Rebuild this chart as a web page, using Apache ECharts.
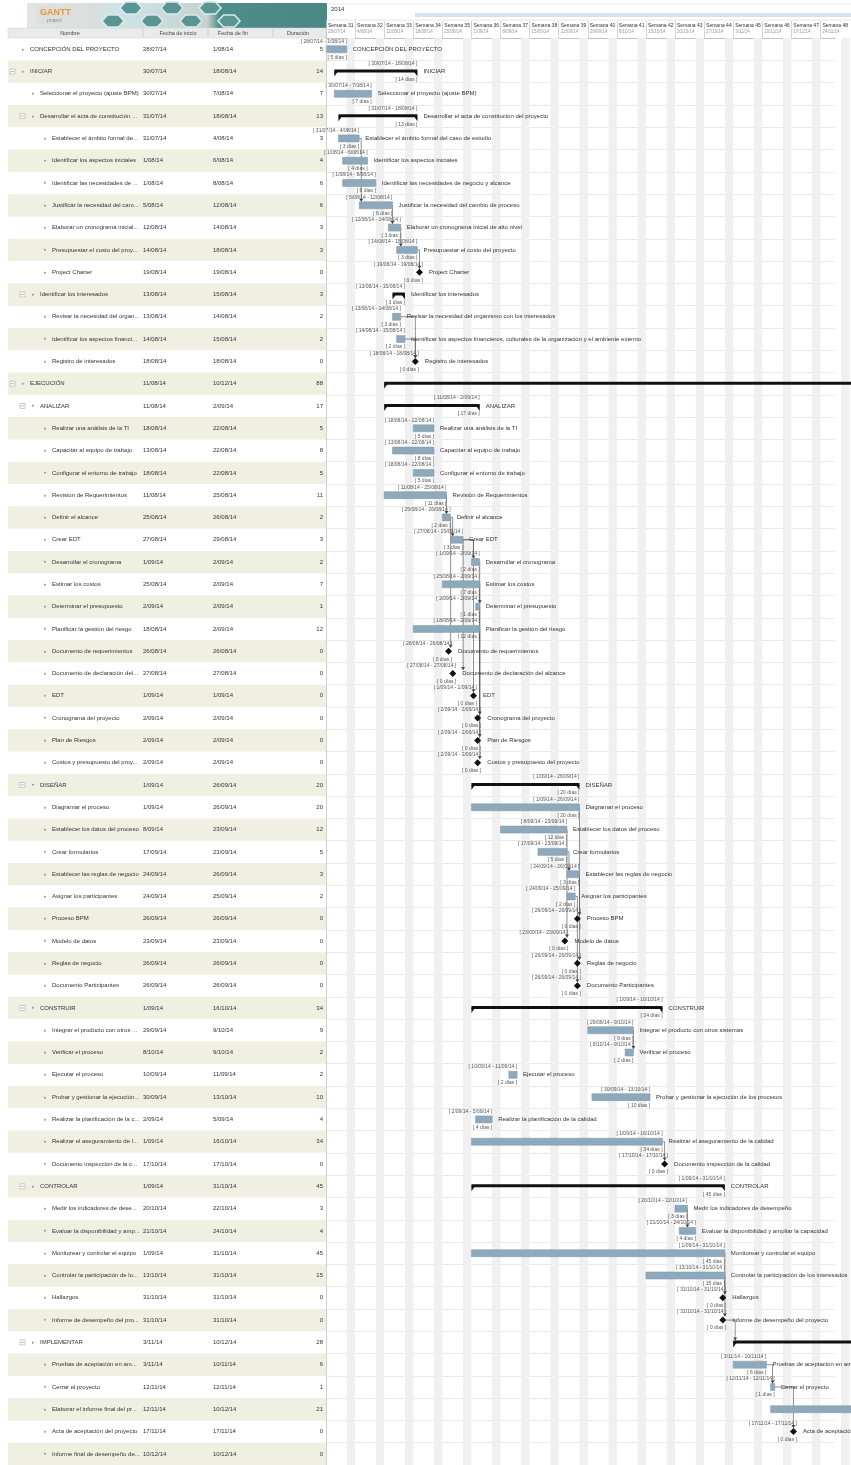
<!DOCTYPE html>
<html><head><meta charset="utf-8">
<script src="https://cdn.jsdelivr.net/npm/echarts@6/dist/echarts.min.js"></script>
<style>html,body{margin:0;padding:0;background:#fff}#c{width:851px;height:1465px}</style>
</head><body><div id="c"></div>
<script>
// ---------------- DATA ----------------
const taskNames = [
 'CONCEPCIÓN DEL PROYECTO','INICIAR','Seleccionar el proyecto (ajuste BPM)','Desarrollar el acta de constitución del proyecto',
 'Establecer el ámbito formal del caso de estudio','Identificar los aspectos iniciales','Identificar las necesidades de negocio y alcance',
 'Justificar la necesidad del cambio de proceso','Elaborar un cronograma inicial de alto nivel','Presupuestar el costo del proyecto',
 'Project Charter','Identificar los interesados','Revisar la necesidad del organismo con los interesados',
 'Identificar los aspectos financieros, culturales de la organización y el ambiente externo','Registro de interesados',
 'EJECUCIÓN','ANALIZAR','Realizar una análisis de la TI','Capacitar al equipo de trabajo','Configurar el entorno de trabajo',
 'Revisión de Requerimientos','Definir el alcance','Crear EDT','Desarrollar el cronograma','Estimar los costos',
 'Determinar el presupuesto','Planificar la gestión del riesgo','Documento de requerimientos','Documento de declaración del alcance',
 'EDT','Cronograma del proyecto','Plan de Riesgos','Costos y presupuesto del proyecto',
 'DISEÑAR','Diagramar el proceso','Establecer los datos del proceso','Crear formularios','Establecer las reglas de negocio',
 'Asignar los participantes','Proceso BPM','Modelo de datos','Reglas de negocio','Documento Participantes',
 'CONSTRUIR','Integrar el producto con otros sistemas','Verificar el proceso','Ejecutar el proceso',
 'Probar y gestionar la ejecución de los procesos','Realizar la planificación de la calidad','Realizar el aseguramiento de la calidad',
 'Documento inspección de la calidad','CONTROLAR','Medir los indicadores de desempeño','Evaluar la disponibilidad y ampliar la capacidad',
 'Monitorear y controlar el equipo','Controlar la participación de los interesados','Hallazgos','Informe de desempeño del proyecto',
 'IMPLEMENTAR','Pruebas de aceptación en ambiente de producción','Cerrar el proyecto','Elaborar el informe final del proyecto',
 'Acta de aceptación del proyecto','Informe final de desempeño del proyecto'
];
const taskLevels = [0,0,1,1,2,2,2,2,2,2,2,1,2,2,2,0,1,2,2,2,2,2,2,2,2,2,2,2,2,2,2,2,2,1,2,2,2,2,2,2,2,2,2,1,2,2,2,2,2,2,2,1,2,2,2,2,2,2,1,2,2,2,2,2];
const taskKinds = ['task','sum','task','sum','task','task','task','task','task','task','ms','sum','task','task','ms',
 'sum','sum','task','task','task','task','task','task','task','task','task','task','ms','ms','ms','ms','ms','ms',
 'sum','task','task','task','task','task','ms','ms','ms','ms',
 'sum','task','task','task','task','task','task','ms',
 'sum','task','task','task','task','ms','ms',
 'sum','task','task','task','ms','ms'];
const startDates = ['28/07/14','30/07/14','30/07/14','31/07/14','31/07/14','1/08/14','1/08/14','5/08/14','12/08/14','14/08/14','19/08/14','13/08/14','13/08/14','14/08/14','18/08/14',
 '11/08/14','11/08/14','18/08/14','13/08/14','18/08/14','11/08/14','25/08/14','27/08/14','1/09/14','25/08/14','2/09/14','18/08/14','26/08/14','27/08/14','1/09/14','2/09/14','2/09/14','2/09/14',
 '1/09/14','1/09/14','8/09/14','17/09/14','24/09/14','24/09/14','26/09/14','23/09/14','26/09/14','26/09/14',
 '1/09/14','29/09/14','8/10/14','10/09/14','30/09/14','2/09/14','1/09/14','17/10/14',
 '1/09/14','20/10/14','21/10/14','1/09/14','13/10/14','31/10/14','31/10/14',
 '3/11/14','3/11/14','12/11/14','12/11/14','17/11/14','10/12/14'];
const endDates = ['1/08/14','18/08/14','7/08/14','18/08/14','4/08/14','6/08/14','8/08/14','12/08/14','14/08/14','18/08/14','19/08/14','15/08/14','14/08/14','15/08/14','18/08/14',
 '10/12/14','2/09/14','22/08/14','22/08/14','22/08/14','25/08/14','26/08/14','29/08/14','2/09/14','2/09/14','2/09/14','2/09/14','26/08/14','27/08/14','1/09/14','2/09/14','2/09/14','2/09/14',
 '26/09/14','26/09/14','23/09/14','23/09/14','26/09/14','25/09/14','26/09/14','23/09/14','26/09/14','26/09/14',
 '16/10/14','9/10/14','9/10/14','11/09/14','13/10/14','5/09/14','16/10/14','17/10/14',
 '31/10/14','22/10/14','24/10/14','31/10/14','31/10/14','31/10/14','31/10/14',
 '10/12/14','10/11/14','12/11/14','10/12/14','17/11/14','10/12/14'];
const durations = [5,14,7,13,3,4,6,6,3,3,0,3,2,2,0,
 88,17,5,8,5,11,2,3,2,7,1,12,0,0,0,0,0,0,
 20,20,12,5,3,2,0,0,0,0,
 34,9,2,2,10,4,34,0,
 45,3,4,45,15,0,0,
 28,6,1,21,0,0];
const weekLabels = ['Semana 31','Semana 32','Semana 33','Semana 34','Semana 35','Semana 36','Semana 37','Semana 38','Semana 39',
 'Semana 40','Semana 41','Semana 42','Semana 43','Semana 44','Semana 45','Semana 46','Semana 47','Semana 48'];
const weekDates = ['28/07/14','4/08/14','11/08/14','18/08/14','25/08/14','1/09/14','8/09/14','15/09/14','22/09/14',
 '29/09/14','6/10/14','13/10/14','20/10/14','27/10/14','3/11/14','10/11/14','17/11/14','24/11/14'];
const dependencies = [[5,8],[8,9],[9,10],[10,11],[13,15],[14,15],[21,22],[22,23],[22,28],[23,29],[23,24],[23,30],
 [24,31],[27,32],[26,33],[25,26],[35,40],[36,41],[38,42],[39,43],[37,38],[45,46],[50,51],[55,57],[56,58],[53,54],
 [58,59],[60,61],[61,63]];

// ---------------- HELPERS ----------------
const ORIGIN = Date.UTC(2014,6,28);
function dayNum(s){ const p=s.split('/').map(Number); return (Date.UTC(2000+p[2],p[1]-1,p[0])-ORIGIN)/86400000; }
const FONT = 'Liberation Sans, Arial, sans-serif';
const N = taskNames.length;
const rowH = 22.37, gridTop = 38.1, CHART_RIGHT = 851;
const weekends = weekLabels.map((_,k)=>5+7*k);
const MS_R = 3.5;

function taskX(api,i){
  const s=dayNum(startDates[i]), e=dayNum(endDates[i])+1;
  if(taskKinds[i]==='ms'){ const xm=api.coord([s+0.5,i])[0]; return [xm-MS_R,xm+MS_R,xm]; }
  return [api.coord([s,i])[0], api.coord([e,i])[0]];
}

function renderTable(params, api){
  const i=params.dataIndex;
  const yc=api.coord([0,i])[1], h=api.size([0,1])[1];
  const X=v=>api.coord([v,i])[0];
  const ch=[];
  if(i%2===1) ch.push({type:'rect',shape:{x:X(8),y:yc-h/2,width:X(326)-X(8),height:h},style:{fill:'#eff0e2'}});
  const tx=[30,40,52][taskLevels[i]];
  if(taskKinds[i]==='sum'){
    const bx=X(tx-20);
    ch.push({type:'rect',shape:{x:bx,y:yc-2.5,width:5,height:5},style:{fill:'#fff',stroke:'#aaa',lineWidth:0.6}});
    ch.push({type:'line',shape:{x1:bx+1.2,y1:yc,x2:bx+3.8,y2:yc},style:{stroke:'#777',lineWidth:0.6}});
  }
  ch.push({type:'text',style:{x:X(tx-8),y:yc,text:'▸',fill:'#999',fontSize:5,fontFamily:FONT,verticalAlign:'middle'}});
  ch.push({type:'text',style:{x:X(tx),y:yc,text:taskNames[i],fill:'#333',fontSize:6,fontFamily:FONT,verticalAlign:'middle',width:X(141)-X(tx),overflow:'truncate',ellipsis:'...'}});
  ch.push({type:'text',style:{x:X(143),y:yc,text:startDates[i],fill:'#333',fontSize:6,fontFamily:FONT,verticalAlign:'middle'}});
  ch.push({type:'text',style:{x:X(213),y:yc,text:endDates[i],fill:'#333',fontSize:6,fontFamily:FONT,verticalAlign:'middle'}});
  ch.push({type:'text',style:{x:X(323),y:yc,text:String(durations[i]),fill:'#333',fontSize:6,fontFamily:FONT,verticalAlign:'middle',align:'right'}});
  return {type:'group',children:ch};
}

function renderWeekend(params, api){
  const d=api.value(0);
  const x1=api.coord([d,0])[0], x2=api.coord([d+2,0])[0];
  const cs=params.coordSys;
  return {type:'rect',shape:{x:x1,y:cs.y,width:x2-x1,height:cs.height},style:{fill:'#f0f0f0'}};
}

function renderGantt(params, api){
  const i=params.dataIndex;
  const yc=api.coord([0,i])[1];
  const kind=taskKinds[i];
  const xs=taskX(api,i);
  const x1=xs[0], x2=xs[1];
  const ch=[];
  if(kind==='ms'){
    const xm=xs[2];
    ch.push({type:'polygon',shape:{points:[[xm,yc-MS_R],[xm+MS_R,yc],[xm,yc+MS_R],[xm-MS_R,yc]]},style:{fill:'#111'}});
  } else if(kind==='sum'){
    ch.push({type:'rect',shape:{x:x1,y:yc-2,width:x2-x1,height:3},style:{fill:'#111'}});
    ch.push({type:'polygon',shape:{points:[[x1,yc],[x1+3.5,yc],[x1,yc+5]]},style:{fill:'#111'}});
    ch.push({type:'polygon',shape:{points:[[x2,yc],[x2-3.5,yc],[x2,yc+5]]},style:{fill:'#111'}});
  } else {
    ch.push({type:'rect',shape:{x:x1,y:yc-3.5,width:Math.max(x2-x1,1),height:7},style:{fill:'#8fa9bc',stroke:'#7b95a8',lineWidth:0.5}});
  }
  if(x2 <= CHART_RIGHT){
    ch.push({type:'text',style:{x:x2,y:yc-8,text:'[ '+startDates[i]+' - '+endDates[i]+' ]',fill:'#555',fontSize:5,fontFamily:FONT,align:'right',verticalAlign:'middle'}});
    ch.push({type:'text',style:{x:x2,y:yc+8,text:'[ '+durations[i]+' días ]',fill:'#555',fontSize:5,fontFamily:FONT,align:'right',verticalAlign:'middle'}});
    ch.push({type:'text',style:{x:x2+6,y:yc,text:taskNames[i],fill:'#333',fontSize:6,fontFamily:FONT,verticalAlign:'middle'}});
  }
  return {type:'group',children:ch};
}

function renderDep(params, api){
  const dep=dependencies[params.dataIndex];
  const p=dep[0]-1, s=dep[1]-1;
  const yp=api.coord([0,p])[1], ys=api.coord([0,s])[1];
  const pe=taskX(api,p)[1];
  const sx= taskKinds[s]==='ms' ? taskX(api,s)[2] : taskX(api,s)[0]+2;
  const xl=Math.max(pe,sx);
  const yt=ys-(taskKinds[s]==='ms'?MS_R:(taskKinds[s]==='sum'?2:3.5));
  return {type:'group',children:[
    {type:'polyline',shape:{points:[[pe,yp],[xl,yp],[xl,yt]]},style:{stroke:'#444',lineWidth:0.6,fill:null}},
    {type:'polygon',shape:{points:[[xl-2,yt-3],[xl+2,yt-3],[xl,yt]]},style:{fill:'#444'}}
  ]};
}

// ---------------- LOGO / HEADER GRAPHICS ----------------
function hex(cx,cy,rx,ry){ const pts=[]; for(let k=0;k<6;k++){const a=Math.PI/3*k; pts.push([cx+rx*Math.cos(a),cy+ry*Math.sin(a)*1.15]);} return pts; }
const hexes=[[113,21],[131,8],[152,21],[172,8],[191,21],[210,8],[229,21]];
const graphic=[
  {type:'rect',shape:{x:27,y:3,width:300,height:25},style:{fill:new echarts.graphic.LinearGradient(0,0,1,0,[{offset:0,color:'#e2e5e3'},{offset:0.22,color:'#d9dedd'},{offset:0.3,color:'#cfe3e6'},{offset:0.6,color:'#c5d3d1'},{offset:0.64,color:'#4f8d8a'},{offset:1,color:'#4b8784'}])},z:1},
  ...hexes.map(h=>({type:'polygon',shape:{points:hex(h[0],h[1],11,6)},style:{fill:'#5b9592',stroke:'#d6ecee',lineWidth:1.6},z:2})),
  {type:'rect',shape:{x:36,y:6,width:48,height:18},style:{fill:'#dcdfdc'},z:3},
  {type:'text',style:{x:40,y:8,text:'GANTT',fill:'#e39a2f',fontSize:9,fontWeight:'bold',fontFamily:FONT},z:4},
  {type:'text',style:{x:47,y:18,text:'project',fill:'#8a8f8d',fontSize:5,fontFamily:FONT},z:4},
  {type:'rect',shape:{x:8,y:28,width:318,height:10},style:{fill:'#e9ebea',stroke:'#cfd2d0',lineWidth:0.5},z:1},
  {type:'text',style:{x:70,y:33,text:'Nombre',fill:'#444',fontSize:5.5,fontFamily:FONT,align:'center',verticalAlign:'middle'},z:2},
  {type:'text',style:{x:178,y:33,text:'Fecha de inicio',fill:'#444',fontSize:5.5,fontFamily:FONT,align:'center',verticalAlign:'middle'},z:2},
  {type:'text',style:{x:233,y:33,text:'Fecha de fin',fill:'#444',fontSize:5.5,fontFamily:FONT,align:'center',verticalAlign:'middle'},z:2},
  {type:'text',style:{x:298,y:33,text:'Duración',fill:'#444',fontSize:5.5,fontFamily:FONT,align:'center',verticalAlign:'middle'},z:2},
  {type:'line',shape:{x1:143,y1:29,x2:143,y2:37},style:{stroke:'#b8bbb9',lineWidth:0.6},z:2},
  {type:'line',shape:{x1:208,y1:29,x2:208,y2:37},style:{stroke:'#b8bbb9',lineWidth:0.6},z:2},
  {type:'line',shape:{x1:273,y1:29,x2:273,y2:37},style:{stroke:'#b8bbb9',lineWidth:0.6},z:2},
  {type:'text',style:{x:331,y:9,text:'2014',fill:'#333',fontSize:6,fontFamily:FONT,verticalAlign:'middle'},z:2},
  {type:'rect',shape:{x:415,y:13,width:436,height:4},style:{fill:'#d3e3ec'},z:1},
  {type:'line',shape:{x1:326,y1:4,x2:851,y2:4},style:{stroke:'#d0d0d0',lineWidth:0.5},z:1},
  {type:'line',shape:{x1:326,y1:20,x2:851,y2:20},style:{stroke:'#c8c8c8',lineWidth:0.5},z:1},
  {type:'line',shape:{x1:326.5,y1:20,x2:326.5,y2:1465},style:{stroke:'#c4c4c4',lineWidth:0.8},z:20}
];

// ---------------- CHART ----------------
const chart=echarts.init(document.getElementById('c'),null,{renderer:'canvas'});
chart.setOption({
  animation:false,
  backgroundColor:'#fff',
  textStyle:{fontFamily:FONT},
  graphic:graphic,
  grid:[
    {left:0,top:gridTop,width:326,height:N*rowH},
    {left:326,top:gridTop,width:525,height:N*rowH}
  ],
  xAxis:[
    {gridIndex:0,type:'value',min:0,max:326,show:false},
    {gridIndex:1,type:'value',min:0,max:122.5,interval:7,position:'top',
     axisLine:{show:true,lineStyle:{color:'#a8a8a8',width:0.6}},
     axisTick:{show:true,length:17,lineStyle:{color:'#b8b8b8',width:0.6}},
     splitLine:{show:false},
     axisLabel:{show:true,showMaxLabel:false,align:'left',margin:3,padding:[0,0,0,2],
       formatter:function(v){const k=Math.round(v/7); return weekLabels[k]?('{a|'+weekLabels[k]+'}\n{b|'+weekDates[k]+'}'):'';},
       rich:{a:{fontSize:5,color:'#333',fontFamily:FONT,lineHeight:6},b:{fontSize:4.5,color:'#9a9a9a',fontFamily:FONT,lineHeight:6}}}}
  ],
  yAxis:[
    {gridIndex:0,type:'category',data:taskNames,inverse:true,show:false},
    {gridIndex:1,type:'category',data:taskNames,inverse:true,
     axisLine:{show:false},axisTick:{show:false},axisLabel:{show:false},
     splitLine:{show:true,interval:0,lineStyle:{color:'#dadada',width:0.6}}}
  ],
  series:[
    {type:'custom',xAxisIndex:0,yAxisIndex:0,renderItem:renderTable,data:taskNames.map((_,i)=>[0,i]),encode:{x:0,y:1},clip:false,silent:true,z:2},
    {type:'custom',xAxisIndex:1,yAxisIndex:1,renderItem:renderWeekend,data:weekends.map(d=>[d,0]),encode:{x:0,y:1},silent:true,z:1},
    {type:'custom',xAxisIndex:1,yAxisIndex:1,renderItem:renderDep,data:dependencies.map(d=>[0,d[1]-1]),encode:{x:0,y:1},silent:true,z:3},
    {type:'custom',xAxisIndex:1,yAxisIndex:1,renderItem:renderGantt,data:taskNames.map((_,i)=>[dayNum(startDates[i]),i]),encode:{x:0,y:1},silent:true,z:4}
  ]
});
</script></body></html>
